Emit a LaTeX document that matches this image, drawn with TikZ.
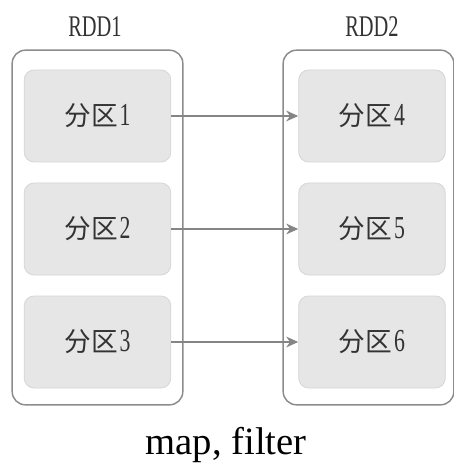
\documentclass[tikz,border=0pt]{standalone}
\usepackage{fontspec}
\setmainfont{Liberation Serif}
\newfontfamily\cjk{Noto Sans CJK SC}
\newfontfamily\narrowserif[FakeStretch=0.68]{Liberation Serif}
\usetikzlibrary{arrows.meta,positioning}
\definecolor{rddline}{HTML}{8C8C8C}
\definecolor{partfill}{HTML}{E6E6E6}
\definecolor{partline}{HTML}{D6D6D6}
\definecolor{flowgray}{HTML}{858585}
\definecolor{rddink}{HTML}{333333}
\newcommand{\rddpart}[1]{{\cjk\fontsize{20pt}{22pt}\selectfont 分区}\kern1.5pt%
  {\narrowserif\fontsize{24pt}{26pt}\selectfont #1}}

\begin{document}
\begin{tikzpicture}[x=0.75pt,y=-0.75pt,>=Stealth,line join=round,
  rdd/.style={draw=rddline,line width=1.1pt,fill=white,rounded corners=10pt,
    minimum width=128pt,minimum height=266pt,inner sep=0pt},
  part/.style={draw=partline,line width=0.6pt,fill=partfill,rounded corners=7.5pt,
    minimum width=110pt,minimum height=69pt,inner sep=0pt,text=rddink},
  rddlabel/.style={text=rddink,font=\narrowserif\fontsize{22.5pt}{24pt}\selectfont},
  flow/.style={->,draw=flowgray,line width=1.5pt,
    arrows={-Stealth[length=9pt,width=8pt]}}]
\path[use as bounding box] (0,0) rectangle (453,466);
\fill[white] (0,0) rectangle (453,466);

% two RDDs with their labels
\node[rdd] (rdd1) at (97.5,227.5) {};
\node[rdd] (rdd2) at (368.5,227.5) {};
\node[rddlabel] (rdd1lbl) at (95,27) {RDD1};
\node[rddlabel] (rdd2lbl) at (372,27) {RDD2};

% partitions
\node[part] (p1) at (97.5,116) {\rddpart{1}};
\node[part] (p2) at (97.5,229) {\rddpart{2}};
\node[part] (p3) at (97.5,342) {\rddpart{3}};
\node[part] (p4) at (372,116) {\rddpart{4}};
\node[part] (p5) at (372,229) {\rddpart{5}};
\node[part] (p6) at (372,342) {\rddpart{6}};

% narrow dependencies
\draw[flow] (p1.east) -- (p4.west);
\draw[flow] (p2.east) -- (p5.west);
\draw[flow] (p3.east) -- (p6.west);

\node[font=\fontsize{29pt}{31pt}\selectfont,text=black] (caption) at (226,445) {map, filter};
\end{tikzpicture}
\end{document}
